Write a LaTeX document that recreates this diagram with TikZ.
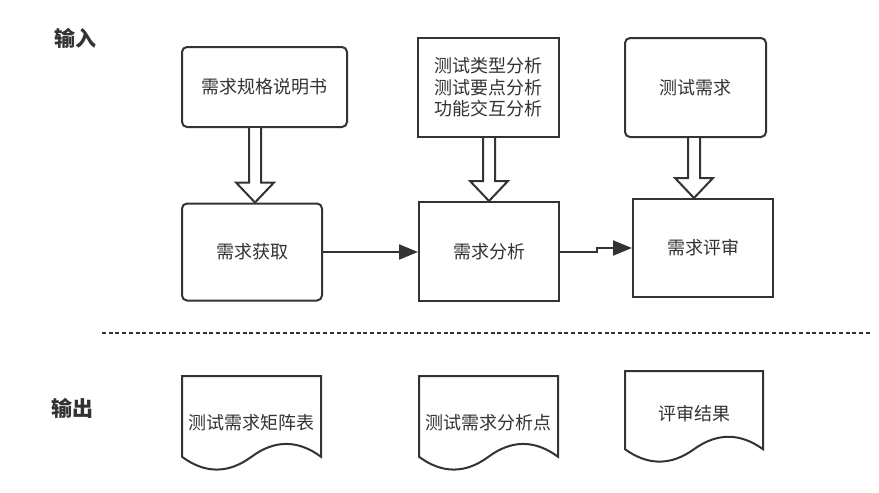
\documentclass[tikz,border=0pt]{standalone}
\usepackage{fontspec}
\setmainfont{Noto Sans CJK SC}
\usetikzlibrary{arrows.meta,calc}
\definecolor{ink}{HTML}{333333}
\newcommand\harrow[3]{% upper node, lower node, x coordinate name
  \draw[hollow] ([xshift=-6pt]#1.south -| #3) -- ([xshift=-6pt,yshift=20pt]#2.north -| #3)
    -- ([xshift=-19pt,yshift=20pt]#2.north -| #3) -- (#2.north -| #3)
    -- ([xshift=19pt,yshift=20pt]#2.north -| #3) -- ([xshift=6pt,yshift=20pt]#2.north -| #3)
    -- ([xshift=6pt]#1.south -| #3);}
\newcommand\docshape[3]{% node, w, h
  \draw[docline,shift={(#1.north west)}] (0,0) -- (#2,0) -- (#2,{0.85*#3})
    .. controls ({0.8333*#2},{0.67*#3}) and ({0.6667*#2},{0.67*#3}) .. ({0.5*#2},{0.85*#3})
    .. controls ({0.3333*#2},{1.03*#3}) and ({0.1667*#2},{1.03*#3}) .. (0,{0.85*#3}) -- cycle;}
\begin{document}
\begin{tikzpicture}[x=1pt,y=-1pt,
  txt/.style={text=ink,font=\fontsize{18}{21.5}\selectfont,inner sep=0pt,align=center},
  box/.style={txt,draw=ink,line width=2pt},
  rbox/.style={box,rounded corners=5pt},
  hollow/.style={draw=ink,line width=2pt,fill=white,line join=miter},
  flow/.style={draw=ink,line width=2pt,-{Triangle[length=19pt,width=15pt]}},
  docline/.style={draw=ink,line width=2pt},
  sect/.style={text=ink,font=\fontsize{21}{24}\selectfont\bfseries,inner sep=0pt},
  dotline/.style={draw=ink,line width=2.2pt,dash pattern=on 4pt off 2.7pt}]
\useasboundingbox[fill=white] (0,0) rectangle (879,493);

\node[sect] (inlab) at (75,38) {输入};
\node[sect] (outlab) at (72,408) {输出};

\node[rbox,minimum width=165pt,minimum height=80pt] (spec) at (264.5,87) {需求规格说明书};
\node[box,minimum width=141pt,minimum height=99pt] (types) at (488.5,87.5) {测试类型分析\\测试要点分析\\功能交互分析};
\node[rbox,minimum width=141pt,minimum height=99pt] (treq) at (695.5,87.5) {测试需求};

\node[rbox,minimum width=140pt,minimum height=97pt] (acq) at (252,252) {需求获取};
\node[box,minimum width=140pt,minimum height=99pt] (ana) at (489,251.5) {需求分析};
\node[box,minimum width=140pt,minimum height=98pt] (rev) at (703,248) {需求评审};

\coordinate (ax1) at (255,0);
\coordinate (ax2) at (489,0);
\coordinate (ax3) at (694,0);
\harrow{spec}{acq}{ax1}
\harrow{types}{ana}{ax2}
\harrow{treq}{rev}{ax3}

\coordinate (step) at (597,0);
\draw[flow] (acq.east) -- (acq.east -| ana.west);
\draw[flow] (ana.east) -- (ana.east -| step) -- (rev.west -| step) -- (rev.west);

\coordinate (dl) at (102,333);
\coordinate (dr) at (870,333);
\draw[dotline] (dl) -- (dr);

\node[txt,minimum width=139pt,minimum height=95pt,anchor=north west] (doc1) at (182,376) {};
\node[txt,minimum width=139pt,minimum height=95pt,anchor=north west] (doc2) at (419,376) {};
\node[txt,minimum width=138pt,minimum height=92pt,anchor=north west] (doc3) at (625,371) {};
\docshape{doc1}{139}{95}
\docshape{doc2}{139}{95}
\docshape{doc3}{138}{92}
\node[txt] (doc1t) at (251.5,423) {测试需求矩阵表};
\node[txt] (doc2t) at (488.5,423) {测试需求分析点};
\node[txt] (doc3t) at (694,414) {评审结果};
\end{tikzpicture}
\end{document}
